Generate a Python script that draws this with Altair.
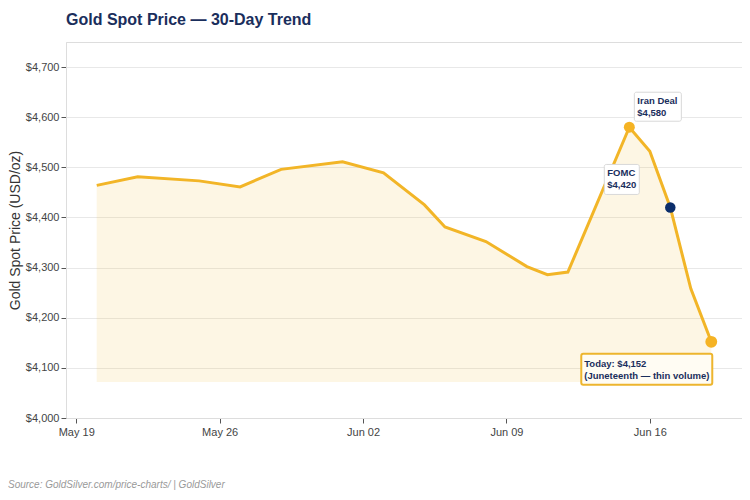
import altair as alt
import pandas as pd

# ---- data ----
dates = ["2026-05-20", "2026-05-22", "2026-05-25", "2026-05-27", "2026-05-29",
         "2026-06-01", "2026-06-03", "2026-06-05", "2026-06-06", "2026-06-08",
         "2026-06-10", "2026-06-11", "2026-06-12", "2026-06-15", "2026-06-16",
         "2026-06-17", "2026-06-18", "2026-06-19"]
prices = [4464, 4481, 4473, 4461, 4496,
          4511, 4489, 4425, 4381, 4352,
          4302, 4286, 4291, 4580, 4532,
          4420, 4258, 4152]
area_base = 4072

peak_date, peak_price, peak_label = "2026-06-15", 4580, "Iran Deal\n$4,580"
fomc_date, fomc_price, fomc_label = "2026-06-17", 4420, "FOMC\n$4,420"
today_date, today_price, today_label = "2026-06-19", 4152, "Today: $4,152\n(Juneteenth \u2014 thin volume)"

y_ticks = [4000, 4100, 4200, 4300, 4400, 4500, 4600, 4700]
x_ticks = [(5, 19), (5, 26), (6, 2), (6, 9), (6, 16)]
title_text = "Gold Spot Price \u2014 30-Day Trend"
y_title = "Gold Spot Price (USD/oz)"
source_text = "Source: GoldSilver.com/price-charts/ | GoldSilver"

df = pd.DataFrame({"date": dates, "price": prices, "base": [area_base] * len(dates)})

GOLD = "#F2B527"
NAVY = "#1A2E5C"
DOT = "#0B2E6B"
FONT = "Liberation Sans"

W, H = 676, 376

xscale = alt.Scale(type="utc",
                   domain=[alt.DateTime(year=2026, month=5, date=18, hours=12, utc=True),
                           alt.DateTime(year=2026, month=6, date=20, hours=12, utc=True)])
yscale = alt.Scale(domain=[4000, 4750], nice=False, zero=False)

xaxis = alt.Axis(values=[alt.DateTime(year=2026, month=m, date=d, utc=True) for m, d in x_ticks],
                 format="%b %d", grid=False, title=None, labelFont=FONT, labelFontSize=11,
                 labelColor="#444", tickColor="#555", tickSize=5, domainColor="#dddddd",
                 labelPadding=3)
yaxis = alt.Axis(values=y_ticks, format="$,.0f", grid=True, gridColor="#e8e8e8",
                 title=y_title, titleFont=FONT, titleFontSize=14,
                 titleFontWeight="normal", titleColor="#333", titlePadding=3,
                 labelFont=FONT, labelFontSize=11, labelColor="#444",
                 tickColor="#555", tickSize=5, domainColor="#dddddd", labelPadding=2)

base = alt.Chart(df)
X = alt.X("date:T", scale=xscale, axis=xaxis)
Y = alt.Y("price:Q", scale=yscale, axis=yaxis)

area = base.mark_area(color="#F2B632", opacity=0.13).encode(x=X, y=Y, y2="base:Q")
line = base.mark_line(color=GOLD, strokeWidth=3).encode(x="date:T", y="price:Q")

def pt(d, p, lab):
    return pd.DataFrame({"date": [d], "price": [p], "label": [lab]})

peak_df = pt(peak_date, peak_price, peak_label)
fomc_df = pt(fomc_date, fomc_price, fomc_label)
today_df = pt(today_date, today_price, today_label)

peak_pt = alt.Chart(peak_df).mark_circle(color="#F5B324", size=120, opacity=1).encode(x="date:T", y="price:Q")
fomc_pt = alt.Chart(fomc_df).mark_circle(color=DOT, size=110, opacity=1).encode(x="date:T", y="price:Q")
today_pt = alt.Chart(today_df).mark_circle(color="#F5B324", size=140, opacity=1).encode(x="date:T", y="price:Q")

def box(d, x0, x1, y0, y1, fill, stroke, sw):
    return alt.Chart(d).mark_rect(fill=fill, stroke=stroke, strokeWidth=sw, cornerRadius=2,
                                  xOffset=x0, x2Offset=x1, yOffset=y0, y2Offset=y1).encode(
        x="date:T", x2="date:T", y="price:Q", y2="price:Q")

def label(d, dx, dy):
    return alt.Chart(d).mark_text(align="left", baseline="alphabetic", dx=dx, dy=dy,
                                  font=FONT, fontSize=9.5, fontWeight="bold", color=NAVY,
                                  lineBreak="\n", lineHeight=12).encode(
        x="date:T", y="price:Q", text="label:N")

peak_box = box(peak_df, 5, 52, -35, -6, "white", "#d8d8d8", 1)
peak_lab = label(peak_df, 8, -23)
fomc_box = box(fomc_df, -66, -31, -43, -13, "white", "#d8d8d8", 1)
fomc_lab = label(fomc_df, -63, -31)
today_box = box(today_df, -130, 1, 12, 43, "#FFFCF3", "#EDB52E", 2)
today_lab = label(today_df, -127, 25)

source = alt.Chart(pd.DataFrame({"t": [source_text]})).mark_text(
    align="left", baseline="alphabetic", font=FONT, fontSize=10, fontStyle="italic",
    color="#999").encode(x=alt.value(-58), y=alt.value(H + 70), text="t:N")

chart = alt.layer(area, line, fomc_pt, peak_pt, today_pt,
                  peak_box, peak_lab, fomc_box, fomc_lab, today_box, today_lab,
                  source).properties(
    width=W, height=H,
    title=alt.TitleParams(title_text, anchor="start", frame="group", font=FONT, fontSize=16,
                          fontWeight="bold", color=NAVY, offset=14),
    autosize=alt.AutoSizeParams(type="none"),
    padding={"left": 58, "top": 34, "right": 0, "bottom": 72},
).configure_view(stroke=None).configure(background="white")

chart.save("out.html", embed_options={"renderer": "svg", "actions": False})
